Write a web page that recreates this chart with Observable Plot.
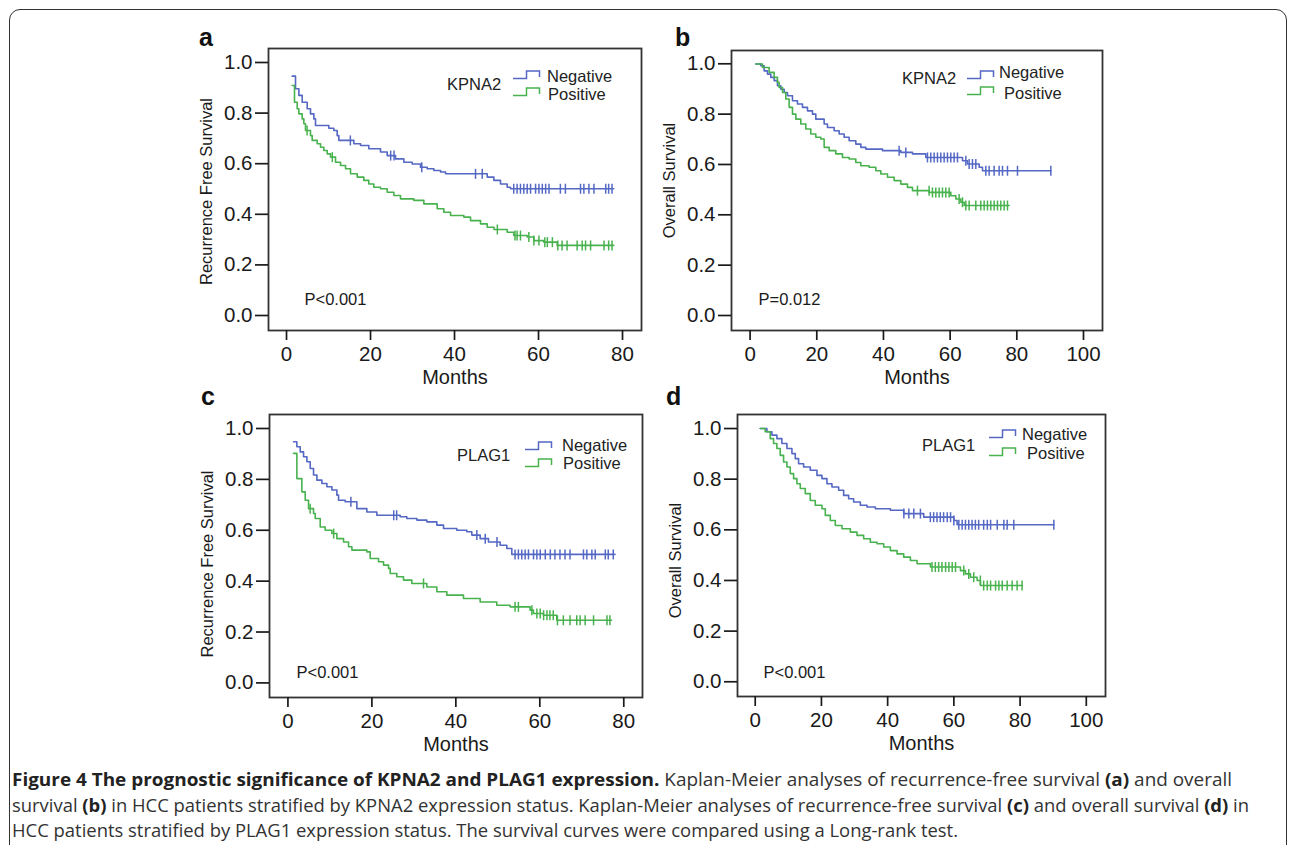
<!DOCTYPE html>
<html><head><meta charset="utf-8">
<script src="https://cdn.jsdelivr.net/npm/d3@7"></script>
<script src="https://cdn.jsdelivr.net/npm/@observablehq/plot@0.6"></script>
<style>
body{margin:0;background:#fff;}
#fig{position:relative;width:1290px;height:845px;overflow:hidden;font-family:"Liberation Sans",Arial,sans-serif;color:#222;}
.border{position:absolute;left:9px;top:9px;width:1278px;height:900px;border:1.6px solid #333;border-radius:11px;box-sizing:border-box;}
.panel{position:absolute;}
.letter{position:absolute;font-weight:bold;font-size:25px;line-height:25px;color:#111;}
.leg{position:absolute;font-size:16.5px;line-height:20px;white-space:nowrap;color:#222;}
.sw{position:absolute;overflow:visible;}
.cap{position:absolute;left:12px;font-family:"Open Sans",sans-serif;font-size:18px;line-height:25px;white-space:nowrap;transform-origin:0 50%;color:#333;}
.cap b{color:#222;}
</style></head><body><div id="fig"><div class="border"></div></div>
<script>
// ---------- data ----------
const groups = ["Negative", "Positive"];
const monthTicksRFS = [0, 20, 40, 60, 80];
const monthTicksOS = [0, 20, 40, 60, 80, 100];
const survTicks = [0, 0.2, 0.4, 0.6, 0.8, 1.0];

// (a) recurrence-free survival, KPNA2  [month, survival]
const rfsKpna2Neg = [[1.35,0.946],[2.14,0.896],[2.94,0.870],[3.73,0.843],[4.92,0.817],[5.71,0.797],[6.51,0.777],[6.90,0.751],[10.08,0.740],[11.27,0.731],[12.06,0.711],[12.46,0.692],[16.03,0.679],[17.62,0.672],[19.60,0.659],[22.38,0.646],[23.97,0.632],[25.95,0.619],[27.94,0.606],[29.92,0.599],[31.90,0.586],[33.49,0.580],[35.08,0.573],[36.67,0.567],[37.86,0.560],[47.78,0.547],[49.37,0.534],[50.95,0.520],[52.54,0.507],[53.33,0.501],[77.9,0.501]];
const rfsKpna2NegCensor = [15.2,24.8,25.6,32.2,45.0,46.6,54.1,54.9,55.7,56.5,57.3,58.1,59.3,60.1,60.9,61.7,62.5,65.2,66.4,70.0,70.8,72.0,73.2,76.0,76.7,77.5];
const rfsKpna2Pos = [[1.35,0.909],[1.90,0.843],[2.54,0.817],[2.94,0.797],[3.73,0.777],[4.13,0.758],[4.52,0.731],[5.71,0.711],[6.11,0.692],[7.30,0.679],[8.10,0.665],[8.89,0.652],[9.68,0.639],[10.48,0.626],[11.67,0.606],[12.86,0.593],[14.05,0.580],[15.24,0.560],[16.83,0.547],[18.41,0.534],[19.60,0.520],[20.79,0.507],[22.38,0.501],[23.97,0.487],[25.56,0.474],[27.14,0.461],[30.32,0.455],[32.70,0.441],[35.87,0.422],[37.46,0.408],[39.05,0.395],[42.22,0.389],[43.81,0.375],[46.19,0.362],[47.78,0.349],[49.4,0.340],[52.54,0.329],[54.13,0.316],[57.30,0.310],[58.89,0.296],[61.27,0.290],[64.44,0.277],[77.9,0.277]];
const rfsKpna2PosCensor = [4.9,10.9,50.2,54.4,54.9,55.7,57.7,58.9,60.1,61.5,62.1,63.3,64.6,65.6,66.8,69.2,70.4,71.2,72.4,75.6,76.7,77.5];

// (b) overall survival, KPNA2
const osKpna2Neg = [[1.71,0.999],[3.21,0.992],[4.21,0.972],[5.21,0.959],[6.21,0.946],[7.21,0.933],[8.21,0.913],[9.21,0.899],[10.21,0.886],[11.21,0.873],[12.71,0.853],[14.21,0.840],[15.71,0.827],[17.21,0.813],[18.71,0.800],[19.71,0.780],[22.21,0.761],[23.21,0.747],[25.21,0.734],[26.71,0.721],[28.21,0.708],[29.71,0.694],[31.71,0.681],[33.21,0.668],[34.71,0.661],[39.71,0.655],[45.21,0.648],[48.71,0.642],[52.71,0.628],[63.71,0.615],[65.21,0.602],[68.71,0.589],[69.71,0.575],[90.2,0.575]];
const osKpna2NegCensor = [44.7,46.7,53.2,54.2,55.2,56.2,57.2,58.2,59.2,60.2,61.2,62.2,64.7,65.7,66.7,67.7,70.7,71.7,73.2,74.7,75.7,77.2,80.2,90.2];
const osKpna2Pos = [[1.71,0.999],[3.71,0.985],[5.71,0.966],[7.21,0.946],[8.21,0.926],[8.71,0.906],[9.71,0.886],[10.71,0.860],[11.71,0.827],[12.71,0.800],[13.71,0.780],[15.21,0.761],[16.71,0.741],[18.21,0.721],[19.71,0.708],[21.21,0.701],[22.21,0.668],[23.71,0.655],[25.71,0.642],[27.71,0.628],[29.71,0.622],[31.71,0.608],[33.21,0.595],[35.71,0.589],[37.71,0.575],[39.21,0.562],[41.21,0.549],[43.21,0.536],[45.21,0.522],[47.21,0.509],[48.71,0.496],[53.71,0.489],[60.21,0.476],[61.71,0.463],[63.21,0.450],[64.21,0.437],[77.7,0.437]];
const osKpna2PosCensor = [50.2,53.7,54.7,55.7,56.7,57.7,58.7,59.7,62.7,63.7,64.7,65.7,67.7,69.2,70.2,71.2,72.2,73.2,74.2,75.2,76.2,77.2];

// (c) recurrence-free survival, PLAG1
const rfsPlag1Neg = [[1.34,0.948],[2.13,0.928],[2.93,0.908],[3.72,0.889],[4.52,0.869],[5.31,0.843],[6.10,0.817],[6.90,0.797],[8.09,0.784],[9.28,0.771],[10.47,0.758],[11.66,0.738],[12.06,0.718],[13.64,0.712],[16.42,0.685],[18.80,0.672],[21.18,0.659],[26.74,0.653],[28.32,0.646],[30.71,0.640],[33.09,0.633],[35.47,0.620],[37.06,0.607],[40.23,0.600],[42.61,0.594],[43.80,0.581],[45.79,0.567],[47.77,0.554],[50.55,0.541],[52.13,0.528],[53.33,0.505],[77.9,0.505]];
const rfsPlag1NegCensor = [15.0,25.2,25.9,45.0,47.0,49.8,54.1,54.9,55.7,56.5,57.3,58.5,59.3,60.1,61.3,62.5,63.6,64.8,66.0,67.2,70.4,71.2,72.4,73.2,75.6,76.3,77.5];
const rfsPlag1Pos = [[1.34,0.902],[2.13,0.803],[3.32,0.751],[4.12,0.718],[4.91,0.685],[6.10,0.666],[6.50,0.646],[7.69,0.613],[8.88,0.600],[10.47,0.587],[11.66,0.567],[13.25,0.554],[14.44,0.535],[15.24,0.522],[18.80,0.515],[19.60,0.489],[21.58,0.476],[22.77,0.463],[23.96,0.450],[24.36,0.430],[25.94,0.417],[27.53,0.404],[29.52,0.391],[33.09,0.377],[35.47,0.358],[37.85,0.345],[41.82,0.332],[45.79,0.318],[49.75,0.305],[52.93,0.299],[57.69,0.286],[58.48,0.273],[60.86,0.266],[64.04,0.246],[77.1,0.246]];
const rfsPlag1PosCensor = [5.3,10.9,32.3,54.1,54.9,58.1,59.3,60.1,60.9,61.7,62.4,63.2,64.2,65.6,67.2,68.8,69.6,70.8,72.8,76.0,76.7];

// (d) overall survival, PLAG1
const osPlag1Neg = [[1.51,1.000],[3.53,0.987],[5.04,0.974],[6.55,0.960],[8.06,0.941],[9.58,0.921],[11.09,0.901],[12.10,0.881],[13.10,0.861],[14.62,0.848],[16.63,0.835],[18.65,0.815],[20.16,0.802],[21.67,0.782],[23.18,0.769],[25.20,0.756],[26.71,0.736],[28.22,0.723],[29.73,0.710],[31.75,0.697],[33.77,0.690],[36.29,0.683],[40.82,0.677],[44.85,0.664],[50.90,0.650],[59.97,0.637],[60.98,0.620],[90.2,0.620]];
const osPlag1NegCensor = [44.9,46.4,47.9,49.9,52.9,53.9,54.9,55.9,56.9,58.0,59.0,60.0,61.5,62.5,63.5,64.5,65.5,66.5,67.5,69.0,70.1,71.1,73.1,75.1,76.1,78.1,90.2];
const osPlag1Pos = [[1.51,1.000],[3.02,0.987],[4.54,0.960],[5.54,0.941],[6.55,0.921],[7.56,0.894],[8.57,0.868],[9.58,0.848],[10.58,0.822],[11.59,0.802],[12.60,0.782],[13.61,0.763],[15.12,0.743],[16.63,0.716],[18.14,0.697],[20.16,0.683],[21.17,0.657],[22.68,0.637],[24.19,0.617],[26.21,0.604],[28.73,0.591],[30.74,0.578],[32.76,0.565],[34.77,0.551],[36.79,0.545],[38.81,0.532],[40.82,0.518],[42.84,0.505],[44.85,0.492],[46.87,0.479],[48.89,0.466],[52.92,0.453],[61.99,0.439],[63.50,0.426],[65.01,0.413],[67.03,0.400],[68.04,0.380],[80.6,0.380]];
const osPlag1PosCensor = [53.4,54.4,55.4,56.4,57.5,58.5,59.5,60.5,63.0,64.5,66.0,68.0,69.0,70.1,71.1,72.6,73.6,74.6,76.1,77.6,79.1,80.6];

const pValues = ["P<0.001", "P=0.012", "P<0.001", "P<0.001"];
const genes = ["KPNA2", "KPNA2", "PLAG1", "PLAG1"];
const yLabels = ["Recurrence Free Survival", "Overall Survival", "Recurrence Free Survival", "Overall Survival"];
const panelLetters = ["a", "b", "c", "d"];

// ---------- styling / layout ----------
const BLUE = "#5468c4", GREEN = "#48b24e";
const fig = document.getElementById("fig");

function stepValue(curve, t) {
  let v = curve[0][1];
  for (const [ti, si] of curve) { if (ti <= t) v = si; else break; }
  return v;
}
const vTick = { draw(ctx, size) { const h = Math.sqrt(size / Math.PI); ctx.moveTo(0, -h); ctx.lineTo(0, h); } };

const panels = [
  { frame: [268, 48, 641, 330], xDomain: [-4.29, 84.52], yDomain: [-0.0593, 1.0553], xTicks: monthTicksRFS,
    neg: rfsKpna2Neg, negC: rfsKpna2NegCensor, pos: rfsKpna2Pos, posC: rfsKpna2PosCensor,
    yLabDy: 2, pDx: 36, pDy: -31, letter: [199, 25],
    leg: { gene: [447, 84], neg: [547, 76], pos: [548, 94], sw: 513, swNeg: 75, swPos: 92 } },
  { frame: [731, 50, 1102, 330], xDomain: [-5.58, 105.7], yDomain: [-0.0596, 1.0528], xTicks: monthTicksOS,
    neg: osKpna2Neg, negC: osKpna2NegCensor, pos: osKpna2Pos, posC: osKpna2PosCensor,
    yLabDy: -10, pDx: 27, pDy: -31, letter: [675, 25],
    leg: { gene: [902, 78], neg: [999, 72], pos: [1004, 93], sw: 967, swNeg: 75, swPos: 91 } },
  { frame: [269, 414, 642, 697], xDomain: [-4.39, 84.46], yDomain: [-0.0574, 1.055], xTicks: monthTicksRFS,
    neg: rfsPlag1Neg, negC: rfsPlag1NegCensor, pos: rfsPlag1Pos, posC: rfsPlag1PosCensor,
    yLabDy: 8, pDx: 27, pDy: -25, letter: [201, 384],
    leg: { gene: [457, 455], neg: [562, 445], pos: [563, 463], sw: 525, swNeg: 446, swPos: 463 } },
  { frame: [737, 414, 1105, 696], xDomain: [-5.35, 105.8], yDomain: [-0.0582, 1.0554], xTicks: monthTicksOS,
    neg: osPlag1Neg, negC: osPlag1NegCensor, pos: osPlag1Pos, posC: osPlag1PosCensor,
    yLabDy: 5, pDx: 26, pDy: -24, letter: [666, 384],
    leg: { gene: [922, 445], neg: [1022, 434], pos: [1027, 453], sw: 989, swNeg: 434, swPos: 452 } }
];

panels.forEach((cfg, i) => {
  const [fl, ft, fr, fb] = cfg.frame;
  const mL = 90, mT = 30, mR = 14, mB = 72;
  const W = fr - fl + mL + mR, H = fb - ft + mT + mB;
  const lines = [], cens = [];
  [[groups[0], cfg.neg, cfg.negC], [groups[1], cfg.pos, cfg.posC]].forEach(([g, curve, cc]) => {
    curve.forEach(([t, v]) => lines.push({ group: g, t, v }));
    cc.forEach(t => cens.push({ group: g, t, v: stepValue(curve, t) }));
  });
  const plot = Plot.plot({
    width: W, height: H, marginLeft: mL, marginTop: mT, marginRight: mR, marginBottom: mB,
    style: { fontFamily: "'Liberation Sans', Arial, sans-serif", fontSize: "20px", color: "#1a1a1a", background: "transparent", overflow: "visible" },
    x: { domain: cfg.xDomain },
    y: { domain: cfg.yDomain },
    color: { domain: groups, range: [BLUE, GREEN] },
    marks: [
      Plot.line(lines, { x: "t", y: "v", z: "group", stroke: "group", curve: "step-after", strokeWidth: 1.6 }),
      Plot.dot(cens, { x: "t", y: "v", stroke: "group", fill: "none", symbol: vTick, r: 5, strokeWidth: 1.5 }),
      Plot.frame({ stroke: "#333", strokeWidth: 1.8 }),
      Plot.axisX({ ticks: cfg.xTicks, tickSize: 10, tickPadding: 6, label: null, strokeWidth: 1.7, fontSize: 20.5, tickFormat: d3.format("d") }),
      Plot.axisY({ ticks: survTicks, tickSize: 13, tickPadding: 3, label: null, strokeWidth: 1.7, fontSize: 20.5, tickFormat: d3.format(".1f") }),
      Plot.text(["Months"], { text: d => d, frameAnchor: "bottom", dy: 47, lineAnchor: "middle", textAnchor: "middle", fontSize: 20 }),
      Plot.text([yLabels[i]], { text: d => d, frameAnchor: "left", dx: -62, dy: cfg.yLabDy, rotate: -90, textAnchor: "middle", lineAnchor: "middle", fontSize: 16.5 }),
      Plot.text([pValues[i]], { text: d => d, frameAnchor: "bottom-left", dx: cfg.pDx, dy: cfg.pDy, textAnchor: "start", lineAnchor: "middle", fontSize: 16.5 })
    ]
  });
  const div = document.createElement("div");
  div.className = "panel";
  div.style.left = (fl - mL) + "px"; div.style.top = (ft - mT) + "px";
  div.style.width = W + "px"; div.style.height = H + "px";
  div.appendChild(plot);
  fig.appendChild(div);

  // panel letter
  const L = document.createElement("div");
  L.className = "letter"; L.textContent = panelLetters[i];
  L.style.left = cfg.letter[0] + "px"; L.style.top = cfg.letter[1] + "px";
  fig.appendChild(L);

  // legend
  const lg = cfg.leg;
  const addText = (txt, [x, y]) => {
    const d = document.createElement("div"); d.className = "leg"; d.textContent = txt;
    d.style.left = x + "px"; d.style.top = (y - 10) + "px"; fig.appendChild(d);
  };
  addText(genes[i], lg.gene);
  addText(groups[0], lg.neg);
  addText(groups[1], lg.pos);
  [[lg.swNeg, BLUE], [lg.swPos, GREEN]].forEach(([cy, col]) => {
    const s = document.createElementNS("http://www.w3.org/2000/svg", "svg");
    s.setAttribute("class", "sw"); s.setAttribute("width", 28); s.setAttribute("height", 10);
    s.style.left = lg.sw + "px"; s.style.top = (cy - 5) + "px";
    s.innerHTML = `<path d="M0,8.5H13.5V1H26.5V7" fill="none" stroke="${col}" stroke-width="1.5"/>`;
    fig.appendChild(s);
  });
});

// caption
const capLines = [
  ["<b>Figure 4 The prognostic significance of KPNA2 and PLAG1 expression.</b> Kaplan-Meier analyses of recurrence-free survival <b>(a)</b> and overall", 779, 1220],
  ["survival <b>(b)</b> in HCC patients stratified by KPNA2 expression status. Kaplan-Meier analyses of recurrence-free survival <b>(c)</b> and overall survival <b>(d)</b> in", 805, 1237],
  ["HCC patients stratified by PLAG1 expression status. The survival curves were compared using a Long-rank test.", 830, 946]
];
capLines.forEach(([html, cy, target]) => {
  const d = document.createElement("div"); d.className = "cap"; d.innerHTML = html;
  d.style.top = (cy - 12.5) + "px";
  fig.appendChild(d);
  const w = d.getBoundingClientRect().width;
  d.style.transform = `scaleX(${target / w})`;
});
</script>
</body></html>
